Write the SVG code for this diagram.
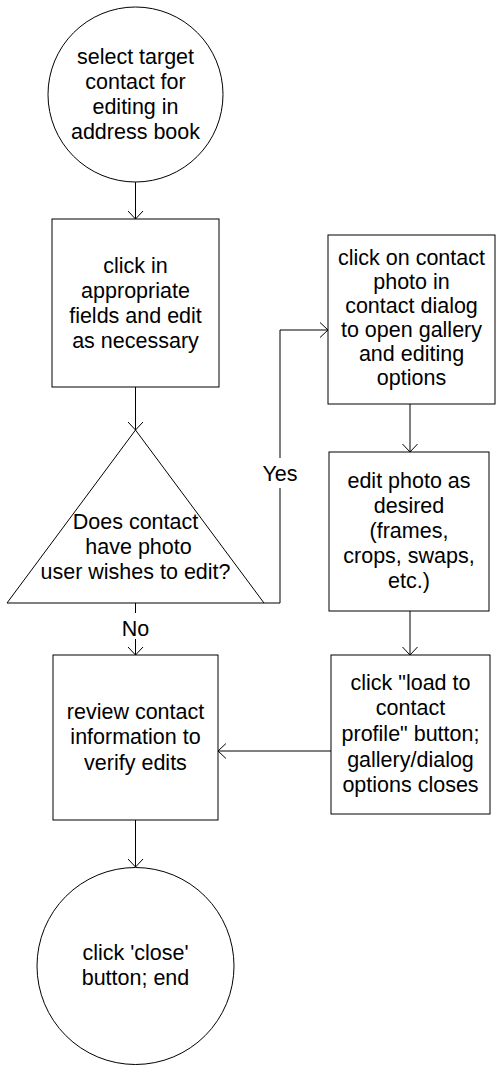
<svg xmlns="http://www.w3.org/2000/svg" width="496" height="1066" viewBox="0 0 496 1066">
<style>
.shape{fill:#fff;stroke:#000;stroke-width:1}
.t{font-family:"Liberation Sans",Arial,sans-serif;font-size:21.5px;fill:#000;text-anchor:middle}
.c{fill:none;stroke:#000;stroke-width:1}
</style>
<defs>
<marker id="arr" markerUnits="userSpaceOnUse" markerWidth="9" markerHeight="17" viewBox="0 0 9 17" refX="8.5" refY="8.5" orient="auto">
<path d="M0.5,1 L8.5,8.5 L0.5,16" fill="none" stroke="#000" stroke-width="1"/>
</marker>
</defs>
<rect width="496" height="1066" fill="#fff"/>
<g id="connectors">
<path class="c" d="M135.5,182 V219" marker-end="url(#arr)"/>
<path class="c" d="M135.5,387 V430" marker-end="url(#arr)"/>
<path class="c" d="M264,603 H280 V330 H328" marker-end="url(#arr)"/>
<path class="c" d="M135.5,603 V655" marker-end="url(#arr)"/>
<path class="c" d="M410,404 V452" marker-end="url(#arr)"/>
<path class="c" d="M410,611 V655" marker-end="url(#arr)"/>
<path class="c" d="M331,751 H218" marker-end="url(#arr)"/>
<path class="c" d="M135.5,820 V867" marker-end="url(#arr)"/>
<g id="label-yes"><rect x="262" y="458" width="36" height="30" fill="#fff"/><text class="t" x="280" y="481">Yes</text></g>
<g id="label-no"><rect x="119" y="613" width="33" height="26" fill="#fff"/><text class="t" x="135.5" y="636">No</text></g>
</g>
<g id="start">
<circle class="shape" cx="135.5" cy="94.5" r="87.5"/>
<text class="t" x="135.5" y="64">select target</text>
<text class="t" x="135.5" y="89">contact for</text>
<text class="t" x="135.5" y="114">editing in</text>
<text class="t" x="135.5" y="139">address book</text>
</g>
<g id="edit-fields">
<rect class="shape" x="52" y="219" width="167" height="168"/>
<text class="t" x="135.5" y="273">click in</text>
<text class="t" x="135.5" y="298">appropriate</text>
<text class="t" x="135.5" y="323">fields and edit</text>
<text class="t" x="135.5" y="348">as necessary</text>
</g>
<g id="decision">
<polygon class="shape" points="135.5,430 264,603 7,603"/>
<text class="t" x="135.5" y="529">Does contact</text>
<text class="t" x="138.5" y="554">have photo</text>
<text class="t" x="135.5" y="579">user wishes to edit?</text>
</g>
<g id="open-gallery">
<rect class="shape" x="328" y="235" width="167" height="169"/>
<text class="t" x="411.5" y="265">click on contact</text>
<text class="t" x="411.5" y="289">photo in</text>
<text class="t" x="411.5" y="313">contact dialog</text>
<text class="t" x="411.5" y="337">to open gallery</text>
<text class="t" x="411.5" y="361">and editing</text>
<text class="t" x="411.5" y="385">options</text>
</g>
<g id="edit-photo">
<rect class="shape" x="329" y="452" width="160" height="159"/>
<text class="t" x="409" y="488">edit photo as</text>
<text class="t" x="409" y="513">desired</text>
<text class="t" x="409" y="538">(frames,</text>
<text class="t" x="409" y="563">crops, swaps,</text>
<text class="t" x="409" y="588">etc.)</text>
</g>
<g id="load-profile">
<rect class="shape" x="331" y="655" width="159" height="159"/>
<text class="t" x="410.5" y="690">click "load to</text>
<text class="t" x="410.5" y="715">contact</text>
<text class="t" x="410.5" y="741">profile" button;</text>
<text class="t" x="410.5" y="767">gallery/dialog</text>
<text class="t" x="410.5" y="792">options closes</text>
</g>
<g id="review">
<rect class="shape" x="53" y="655" width="165" height="165"/>
<text class="t" x="135.5" y="719">review contact</text>
<text class="t" x="135.5" y="744">information to</text>
<text class="t" x="135.5" y="770">verify edits</text>
</g>
<g id="end">
<circle class="shape" cx="135.5" cy="966" r="98.5"/>
<text class="t" x="135.5" y="960">click 'close'</text>
<text class="t" x="135.5" y="985">button; end</text>
</g>
</svg>
